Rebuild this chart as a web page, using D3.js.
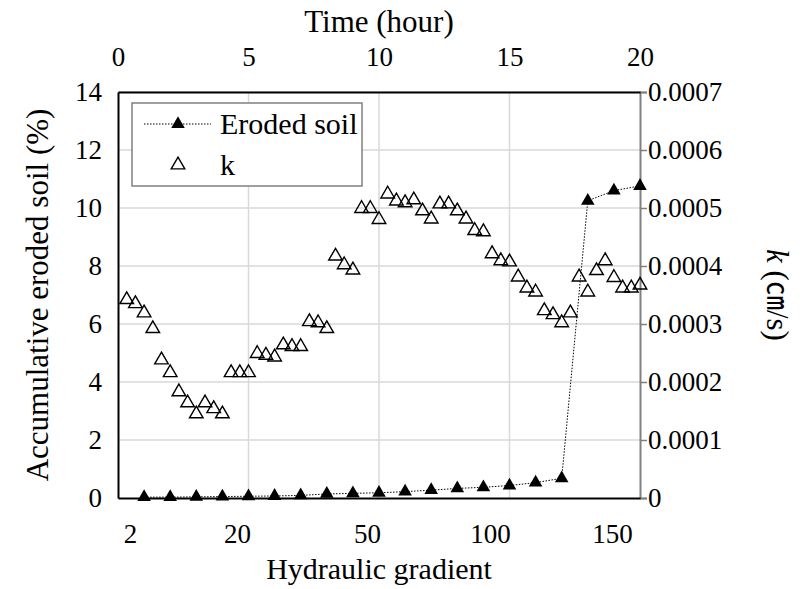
<!DOCTYPE html>
<html><head><meta charset="utf-8">
<script src="https://cdn.jsdelivr.net/npm/d3@7"></script>
<style>body{margin:0;background:#fff}svg text{font-family:"Liberation Serif","Times New Roman",serif;fill:#000}</style>
</head><body><svg id="c" width="804" height="589"></svg>
<script>
// ---- data ----
const erodedHours = [1,2,3,4,5,6,7,8,9,10,11,12,13,14,15,16,17,18,19,20];
const erodedSoil = [0.03,0.03,0.04,0.05,0.06,0.07,0.09,0.14,0.16,0.18,0.22,0.27,0.33,0.37,0.43,0.53,0.68,10.25,10.6,10.76];
const kIndex = d3.range(1, 61); // k measured every 20 minutes (hour = index/3)
const kValues = [0.000342,0.000335,0.000319,0.000292,0.000238,0.000216,0.000183,0.000164,0.000145,0.000164,0.000154,0.000145,
  0.000216,0.000216,0.000216,0.000249,0.000246,0.000243,0.000264,0.000261,0.000261,0.000304,0.000302,0.000292,
  0.000417,0.000402,0.000393,0.000499,0.000499,0.000480,0.000524,0.000512,0.000509,0.000514,0.000495,0.000481,
  0.000507,0.000507,0.000495,0.000481,0.000461,0.000459,0.000421,0.000409,0.000407,0.000381,0.000362,0.000355,
  0.000323,0.000316,0.000302,0.000319,0.000381,0.000355,0.000392,0.000409,0.000380,0.000362,0.000362,0.000367];
const leftTicks = [0,2,4,6,8,10,12,14];
const rightTicks = [0,0.0001,0.0002,0.0003,0.0004,0.0005,0.0006,0.0007];
const rightTickLabels = ["0","0.0001","0.0002","0.0003","0.0004","0.0005","0.0006","0.0007"];
const timeTicks = [0,5,10,15,20];
const gradientLabels = ["2","20","50","100","150"];
const gradientAtHour = [0.46,4.56,9.54,14.25,18.93];

// ---- layout ----
const SERIF = '"Liberation Serif","Times New Roman",serif';
const svg = d3.select("#c");
const L = 118, R = 640, T = 92, B = 498;
const x = d3.scaleLinear().domain([0,20]).range([L,R]);
const yL = d3.scaleLinear().domain([0,14]).range([B,T]);
const yR = d3.scaleLinear().domain([0,0.0007]).range([B,T]);
const fs = 27;

function styleAxis(sel){
  sel.attr("font-family", SERIF).attr("font-size", fs);
  sel.selectAll("text").style("font-family", SERIF).style("font-size", fs+"px").attr("fill","#000");
}

// gridlines
const g = svg.append("g");
g.selectAll(".hg").data(leftTicks.slice(1)).join("line")
  .attr("x1",L).attr("x2",R).attr("y1",d=>yL(d)).attr("y2",d=>yL(d))
  .attr("stroke","#d9d9d9").attr("stroke-width",1.5);
g.selectAll(".vg").data(timeTicks.slice(1,-1)).join("line")
  .attr("y1",T).attr("y2",B).attr("x1",d=>x(d)).attr("x2",d=>x(d))
  .attr("stroke","#d9d9d9").attr("stroke-width",1.5);

// right axis (gray) with ticks
const rAxis = svg.append("g").attr("transform",`translate(${R},0)`)
  .call(d3.axisRight(yR).tickValues(rightTicks).tickSize(7).tickFormat((d,i)=>rightTickLabels[i]).tickPadding(1));
rAxis.select(".domain").attr("stroke","#808080").attr("stroke-width",2);
rAxis.selectAll(".tick line").attr("stroke","#808080").attr("stroke-width",1.5);
styleAxis(rAxis);

// left axis
const lAxis = svg.append("g").attr("transform",`translate(${L},0)`)
  .call(d3.axisLeft(yL).tickValues(leftTicks).tickSize(0).tickPadding(16));
lAxis.select(".domain").attr("stroke","#000").attr("stroke-width",2);
styleAxis(lAxis);

// top axis
const tAxis = svg.append("g").attr("transform",`translate(0,${T})`)
  .call(d3.axisTop(x).tickValues(timeTicks).tickSize(0).tickPadding(26));
tAxis.select(".domain").attr("stroke","#000").attr("stroke-width",2);
styleAxis(tAxis);

// bottom axis (hydraulic gradient labels)
const bAxis = svg.append("g").attr("transform",`translate(0,${B})`)
  .call(d3.axisBottom(x).tickValues(gradientAtHour).tickSize(0).tickPadding(26).tickFormat((d,i)=>gradientLabels[i]));
bAxis.select(".domain").attr("stroke","#000").attr("stroke-width",2);
styleAxis(bAxis);

// titles
const tfs = 31;
svg.append("text").attr("x",379).attr("y",32).attr("text-anchor","middle").style("font-size",tfs+"px").text("Time (hour)");
svg.append("text").attr("x",379).attr("y",579).attr("text-anchor","middle").style("font-size","30px").text("Hydraulic gradient");
svg.append("text").attr("transform","translate(48,295) rotate(-90)").attr("text-anchor","middle").style("font-size",tfs+"px").text("Accumulative eroded soil (%)");
const rt = svg.append("text").attr("transform","translate(767,295) rotate(90)").attr("text-anchor","middle").style("font-size",tfs+"px");
rt.append("tspan").attr("font-style","italic").text("k");
rt.append("tspan").text(" (");
rt.append("tspan").style("font-family","Noto Sans CJK JP").style("font-size","29px").text("㎝");
rt.append("tspan").text("/s)");

// eroded soil line + markers
const tri = d3.symbol().type(d3.symbolTriangle).size(80);
const eData = erodedHours.map((h,i)=>({h, v: erodedSoil[i]}));
svg.append("path").datum(eData)
  .attr("d", d3.line().x(d=>x(d.h)).y(d=>yL(d.v)))
  .attr("fill","none").attr("stroke","#000").attr("stroke-width",1).attr("stroke-dasharray","1.5,1.5");

// k markers
const kData = kIndex.map((n,i)=>({h: n/3, v: kValues[i]}));
svg.append("g").selectAll("path").data(kData).join("path")
  .attr("d", tri).attr("transform", d=>`translate(${x(d.h)},${yR(d.v)})`)
  .attr("fill","none").attr("stroke","#000").attr("stroke-width",1.4);

svg.append("g").selectAll("path").data(eData).join("path")
  .attr("d", tri).attr("transform", d=>`translate(${x(d.h)},${yL(d.v)})`)
  .attr("fill","#000");

// legend
const lg = svg.append("g");
lg.append("rect").attr("x",132).attr("y",103).attr("width",230).attr("height",83)
  .attr("fill","#fff").attr("stroke","#808080").attr("stroke-width",1.5);
lg.append("line").attr("x1",144).attr("x2",211).attr("y1",124).attr("y2",124)
  .attr("stroke","#000").attr("stroke-width",1).attr("stroke-dasharray","1.5,1.5");
lg.append("path").attr("d",tri).attr("transform","translate(178,124)").attr("fill","#000");
lg.append("path").attr("d",tri).attr("transform","translate(178,165)").attr("fill","none").attr("stroke","#000").attr("stroke-width",1.4);
lg.append("text").attr("x",220).attr("y",134).style("font-size","30px").text("Eroded soil");
lg.append("text").attr("x",220).attr("y",175).style("font-size","30px").text("k");
</script></body></html>
